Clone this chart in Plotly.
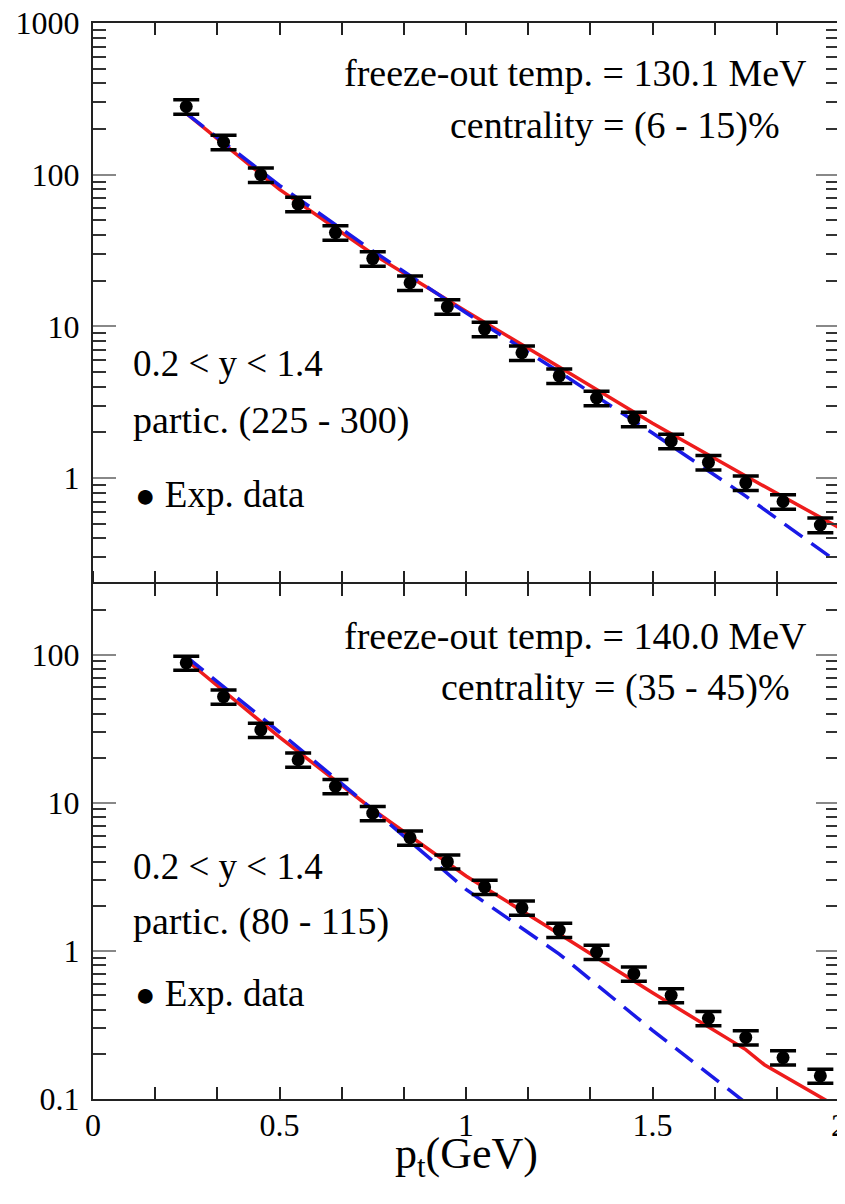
import plotly.graph_objects as go
from plotly.subplots import make_subplots

# ---------------- data ----------------
pt = [0.25, 0.35, 0.45, 0.55, 0.65, 0.75, 0.85, 0.95, 1.05,
      1.15, 1.25, 1.35, 1.45, 1.55, 1.65, 1.75, 1.85, 1.95]

top_data = [282, 164, 100, 64, 41.6, 28, 19.4, 13.5, 9.6,
            6.7, 4.72, 3.37, 2.45, 1.75, 1.27, 0.93, 0.70, 0.49]
bot_data = [88, 52, 31, 19.5, 12.9, 8.5, 5.8, 4.0, 2.7,
            1.95, 1.38, 0.98, 0.70, 0.50, 0.35, 0.26, 0.19, 0.143]
rel_err = 0.11

curve_pt = [0.25, 0.5, 0.75, 1.0, 1.25, 1.5, 1.75, 2.0]
top_red = [254, 80, 30, 12.6, 5.4, 2.3, 1.03, 0.47]
top_blue = [254, 85, 31.5, 12.3, 5.0, 1.98, 0.76, 0.274]

bot_red_pt = [0.25, 0.5, 0.75, 1.0, 1.25, 1.5, 1.75, 1.8, 2.0]
bot_red = [92, 27.7, 9.0, 3.2, 1.3, 0.52, 0.215, 0.17, 0.087]
bot_blue_pt = [0.25, 0.5, 0.75, 1.0, 1.25, 1.5, 1.75]
bot_blue = [97, 30, 9.0, 2.6, 0.95, 0.29, 0.094]

x_tickvals = [0, 0.5, 1, 1.5, 2]
x_ticktext = ["0", "0.5", "1", "1.5", "2"]
top_yvals = [1, 10, 100, 1000]
top_ytext = ["1", "10", "100", "1000"]
bot_yvals = [0.1, 1, 10, 100]
bot_ytext = ["0.1", "1", "10", "100"]

BULLET = '<span style="font-size:34px">\u25CF</span> '
top_texts = ["freeze-out temp. = 130.1 MeV", "centrality = (6 - 15)%",
             "0.2 < y < 1.4", "partic. (225 - 300)", BULLET + "Exp. data"]
bot_texts = ["freeze-out temp. = 140.0 MeV", "centrality = (35 - 45)%",
             "0.2 < y < 1.4", "partic. (80 - 115)", BULLET + "Exp. data"]

RED = "#ee1c1c"
BLUE = "#1a1ae6"
FONT = "Liberation Serif"

# page body has an 8px margin: shift plot area accordingly
W, H = 845, 1204
OFF = 8
PX0, PX1, PY0, PY1 = 93, 839, 23, 1099      # plot area in window pixels
PW, PH = PX1 - PX0, PY1 - PY0
L, T = PX0 - OFF, PY0 - OFF
R, B = W - (PX1 - OFF), H - (PY1 - OFF)
split = 515 / PH

fig = make_subplots(rows=2, cols=1, shared_xaxes=False, vertical_spacing=0,
                    row_heights=[1 - split, split])

for row, data, rpt, rv, bpt, bv in [
        (1, top_data, curve_pt, top_red, curve_pt, top_blue),
        (2, bot_data, bot_red_pt, bot_red, bot_blue_pt, bot_blue)]:
    fig.add_trace(go.Scatter(x=rpt, y=rv, mode="lines",
                             line=dict(color=RED, width=3.5),
                             showlegend=False), row=row, col=1)
    fig.add_trace(go.Scatter(x=bpt, y=bv, mode="lines",
                             line=dict(color=BLUE, width=3.5, dash="22px,11px"),
                             showlegend=False), row=row, col=1)
    fig.add_trace(go.Scatter(
        x=pt, y=data, mode="markers",
        marker=dict(color="black", size=13, symbol="circle"),
        error_y=dict(type="data", array=[v * rel_err for v in data],
                     arrayminus=[v * rel_err for v in data],
                     color="black", thickness=3.5, width=13),
        showlegend=False), row=row, col=1)

# empty traces so the divider tick axes exist
fig.add_trace(go.Scatter(x=[], y=[], xaxis="x3", yaxis="y2", showlegend=False))
fig.add_trace(go.Scatter(x=[], y=[], xaxis="x4", yaxis="y2", showlegend=False))

TICKC = "#222"


def xcommon(tick_dir):
    return dict(range=[0, 2], showgrid=False, zeroline=False,
                automargin=False,
                ticks=tick_dir, ticklen=12, tickwidth=2, tickcolor=TICKC,
                tickmode="array", tickvals=x_tickvals, ticktext=x_ticktext,
                tickfont=dict(family=FONT, size=32, color="black"),
                ticklabeloverflow="allow",
                minor=dict(ticks=tick_dir, ticklen=12, tickwidth=2,
                           tickcolor=TICKC, dtick=1 / 6, tick0=0,
                           showgrid=False))


# top panel: axis line + ticks on its top edge only
fig.layout.xaxis.update(side="top", showline=True, linecolor="#222",
                        linewidth=2, mirror=False, showticklabels=False,
                        **xcommon("inside"))
# bottom panel: bottom edge + mirrored top edge (divider)
fig.layout.xaxis2.update(showline=True, linecolor="#222", linewidth=2,
                         mirror="ticks", ticklabelstandoff=-3,
                         **xcommon("inside"))
# divider ticks pointing up and down
fig.layout.xaxis3 = dict(overlaying="x2", anchor="y2", side="top",
                         showline=False, showticklabels=False,
                         **xcommon("outside"))
fig.layout.xaxis4 = dict(overlaying="x2", anchor="y2", side="top",
                         showline=False, showticklabels=False,
                         **xcommon("inside"))


def minor_vals(lo, hi):
    out = []
    d = lo
    while d < hi:
        out += [d * k for k in range(2, 10)]
        d *= 10
    return out


for ax, rng, tv, tt, mlo, mhi in [
        ("yaxis", [-0.699, 3.001], top_yvals, top_ytext, 0.1, 1000),
        ("yaxis2", [-1.001, 2.477], bot_yvals, bot_ytext, 0.01, 1000)]:
    fig.layout[ax].update(
        type="log", range=rng, showgrid=False, zeroline=False,
        automargin=False,
        showline=True, linecolor="#222", linewidth=2, mirror="ticks",
        ticks="inside", ticklen=23, tickwidth=2, tickcolor="#888",
        tickmode="array", tickvals=tv, ticktext=tt,
        tickfont=dict(family=FONT, size=32, color="black"),
        ticklabelstandoff=5, ticklabeloverflow="allow",
        minor=dict(ticks="inside", ticklen=13, tickwidth=2, tickcolor="#333",
                   tickmode="array", tickvals=minor_vals(mlo, mhi),
                   showgrid=False))


def px(xp):
    return (xp - PX0) / PW


def py(yp):
    return (PY1 - yp) / PH


ann = []
# (x px, y px, anchor) in window pixels
top_pos = [(809, 73, "right"), (782, 125, "right"), (131, 363, "left"),
           (131, 420, "left"), (133, 494, "left")]
bot_pos = [(809, 636, "right"), (792, 687, "right"), (131, 866, "left"),
           (131, 922, "left"), (133, 993, "left")]
sizes = [38, 38, 37, 38, 37]
for texts, poss in [(top_texts, top_pos), (bot_texts, bot_pos)]:
    for t, (xp, yp, anc), s in zip(texts, poss, sizes):
        ann.append(dict(text=t, x=px(xp), y=py(yp), xref="paper", yref="paper",
                        xanchor=anc, yanchor="middle", showarrow=False,
                        font=dict(family=FONT, size=s, color="black")))
ann.append(dict(text="p<sub>t</sub>(GeV)", x=px(466), y=py(1156),
                xref="paper", yref="paper", xanchor="center", yanchor="middle",
                showarrow=False, font=dict(family=FONT, size=44, color="black")))

fig.update_layout(width=W, height=H, margin=dict(l=L, r=R, t=T, b=B),
                  paper_bgcolor="white", plot_bgcolor="rgba(0,0,0,0)",
                  annotations=ann, showlegend=False)

fig.write_html("out.html")
